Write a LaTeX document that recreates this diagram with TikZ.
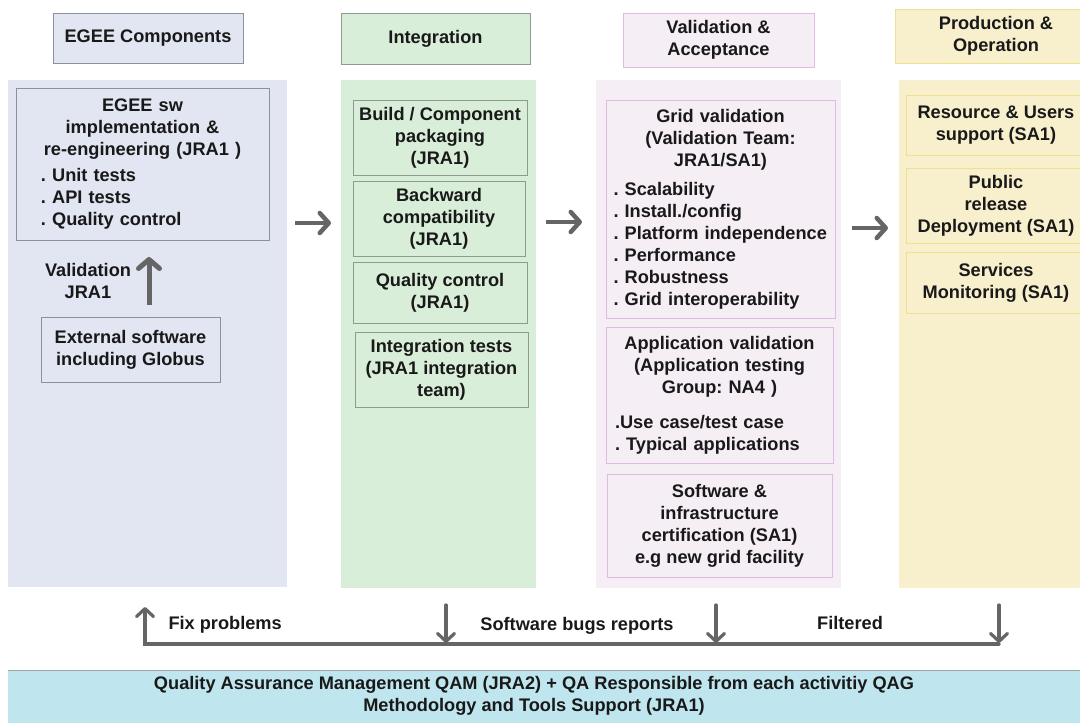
\documentclass[tikz,border=0pt]{standalone}
\usepackage{fontspec}
\setmainfont{Liberation Sans}
\usetikzlibrary{arrows.meta}
\frenchspacing
\hyphenpenalty=10000
\definecolor{bluefill}{HTML}{E1E6F2}
\definecolor{blueline}{HTML}{8C8F9C}
\definecolor{greenfill}{HTML}{D9EED9}
\definecolor{greenline}{HTML}{8E9C8E}
\definecolor{pinkfill}{HTML}{F5EEF5}
\definecolor{pinkline}{HTML}{E2B9E2}
\definecolor{yellowfill}{HTML}{F8EFCD}
\definecolor{yellowline}{HTML}{EEE08E}
\definecolor{bandfill}{HTML}{BFE6EE}
\definecolor{arrowgray}{HTML}{656565}
\begin{document}
\begin{tikzpicture}[x=1pt,y=-1pt,
    every node/.style={font=\bfseries\fontsize{18.2}{22}\selectfont, text=black!90},
    box/.style={draw, rectangle, inner sep=0pt, line width=1pt, align=center},
    listbox/.style={box, align=left},
    bigarrow/.style={draw=arrowgray, line width=4.5pt, -{Straight Barb[length=9pt,width=20pt,line width=4.5pt,round]}},
    flow/.style={draw=arrowgray, line width=3.2pt, line cap=round}]
    \useasboundingbox (0,0) rectangle (1080,723);
    \clip (0,0) rectangle (1080,723);
    % column backgrounds
    \fill[bluefill] (8,80) rectangle (287,587);
    \fill[greenfill] (341,80) rectangle (536,588);
    \fill[pinkfill] (596,80) rectangle (841,588);
    \fill[yellowfill] (899,80) rectangle (1095,588);
    % headers
    \node[box, draw=blueline, fill=bluefill, minimum width=190pt, minimum height=50pt] (hEgee) at (148,38) {EGEE Components};
    \node[box, draw=greenline, fill=greenfill, minimum width=189pt, minimum height=51pt] (hInteg) at (435.5,38.5) {Integration};
    \node[box, draw=pinkline, fill=pinkfill, minimum width=191pt, minimum height=54pt] (hValid) at (718.5,40) {Validation \&\\Acceptance};
    \node[box, draw=yellowline, fill=yellowfill, minimum width=202pt, minimum height=54pt] (hProd) at (996,36) {Production \&\\Operation};
    % EGEE components
    \node[listbox, draw=blueline, fill=bluefill, minimum width=253pt, minimum height=152pt, text width=203pt] (sw) at (142.5,164)
        {{\centering EGEE sw\\implementation \&\\re-engineering (JRA1 )\par}\vspace{4pt}. Unit tests\\. API tests\\. Quality control};
    \node[box, draw=blueline, fill=bluefill, minimum width=179pt, minimum height=65pt] (ext) at (130.5,349.5) {External software\\including Globus};
    \node[align=center] (valid) at (88,281) {Validation\\JRA1};
    \coordinate (v1) at (149,305);
    \coordinate (v2) at (149,257);
    \draw[draw=arrowgray, line width=5pt, -{Straight Barb[length=9pt,width=21pt,line width=5pt,round]}] (v1) -- (v2);
    % integration
    \node[box, draw=greenline, fill=greenfill, minimum width=174pt, minimum height=75pt] (build) at (440,137.5) {Build / Component\\packaging\\(JRA1)};
    \node[box, draw=greenline, fill=greenfill, minimum width=172pt, minimum height=75pt] (back) at (439,218.5) {Backward\\compatibility\\(JRA1)};
    \node[box, draw=greenline, fill=greenfill, minimum width=174pt, minimum height=61pt] (qual) at (440,292.5) {Quality control\\(JRA1)};
    \node[box, draw=greenline, fill=greenfill, minimum width=173pt, minimum height=75pt] (itest) at (441.5,369.5) {Integration tests\\(JRA1 integration\\team)};
    % validation and acceptance
    \node[listbox, draw=pinkline, fill=pinkfill, minimum width=229pt, minimum height=218pt, text width=214pt] (grid) at (720.5,209)
        {{\centering Grid validation\\(Validation Team:\\JRA1/SA1)\par}\vspace{7pt}. Scalability\\. Install./config\\. Platform independence\\. Performance\\. Robustness\\. Grid interoperability};
    \node[listbox, draw=pinkline, fill=pinkfill, minimum width=227pt, minimum height=136pt, text width=209pt] (app) at (719.5,395.5)
        {{\centering Application validation\\(Application testing\\Group: NA4 )\par}\vspace{13pt}.Use case/test case\\. Typical applications};
    \node[box, draw=pinkline, fill=pinkfill, minimum width=225pt, minimum height=103pt] (cert) at (719.5,525.5) {Software \&\\infrastructure\\certification (SA1)\\e.g new grid facility};
    % production and operation
    \node[box, draw=yellowline, fill=yellowfill, minimum width=180pt, minimum height=60pt] (res) at (996,125) {Resource \& Users\\support (SA1)};
    \node[box, draw=yellowline, fill=yellowfill, minimum width=180pt, minimum height=75pt] (pub) at (996,205.5) {Public\\release\\Deployment (SA1)};
    \node[box, draw=yellowline, fill=yellowfill, minimum width=180pt, minimum height=61pt] (srv) at (996,282.5) {Services\\Monitoring (SA1)};
    % arrows between columns
    \coordinate (a1) at (295,223);
    \coordinate (a2) at (331,223);
    \coordinate (b1) at (546,222);
    \coordinate (b2) at (582,222);
    \coordinate (c1) at (852,228);
    \coordinate (c2) at (888,228);
    \draw[bigarrow] (a1) -- (a2);
    \draw[bigarrow] (b1) -- (b2);
    \draw[bigarrow] (c1) -- (c2);
    % feedback loop
    \coordinate (qL) at (145,644);
    \coordinate (qR) at (999,644);
    \coordinate (fix) at (145,607);
    \draw[flow, -{Straight Barb[length=8pt,width=17pt,line width=3.2pt,round]}] (qR) -- (qL) -- (fix);
    \foreach \x in {446,716,999}
    {
        \coordinate (d\x) at (\x,605);
        \draw[flow, -{Straight Barb[length=8pt,width=17pt,line width=3.2pt,round]}] (d\x) -- (\x,643);
    }
    \node[anchor=west] (fixlbl) at (165,625) {Fix problems};
    \node (bugs) at (577,626) {Software bugs reports};
    \node (filt) at (850,623) {Filtered};
    % quality assurance band
    \fill[bandfill] (8,670) rectangle (1095,730);
    \draw[gray!70, line width=1pt] (8,670) -- (1095,670);
    \node[align=center] (qam) at (534,696) {Quality Assurance Management QAM (JRA2) + QA Responsible from each activitiy QAG\\Methodology and Tools Support (JRA1)};
\end{tikzpicture}
\end{document}
